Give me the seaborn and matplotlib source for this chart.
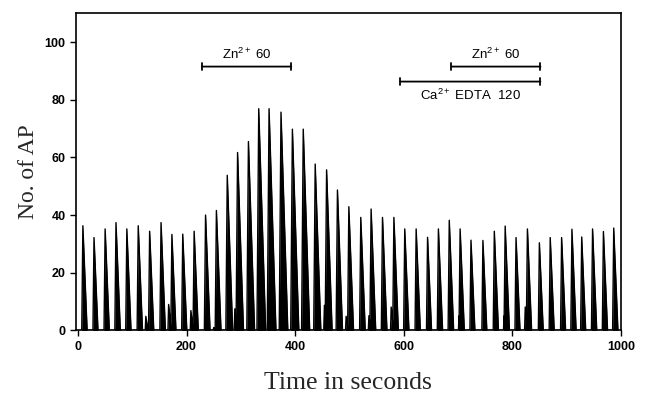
import numpy as np
import pandas as pd
import matplotlib
matplotlib.use("Agg")
import matplotlib.pyplot as plt
import seaborn as sns

# ---- data ----
spike_times = [9, 29.5, 50, 70, 90, 111, 132, 153, 173, 193, 214, 235, 255, 275,
               294, 314, 333, 352, 374, 395, 415, 437, 458, 478, 499, 521, 540,
               561, 582, 602, 623, 644, 664, 684, 704, 724, 746, 767, 787, 807,
               828, 850, 870, 891, 910, 928, 948, 968, 987]
spike_heights = [36.3, 32.2, 35.2, 37.4, 35.2, 36.3, 34.4, 37.4, 33.3, 33.4, 34.4,
                 40.0, 41.6, 53.8, 61.7, 65.5, 76.9, 76.9, 75.7, 69.8, 69.8, 57.7,
                 55.7, 48.7, 42.9, 39.2, 42.1, 39.2, 39.2, 35.2, 35.2, 32.3, 35.2,
                 38.2, 35.2, 31.3, 31.2, 34.4, 36.2, 32.2, 35.2, 30.4, 32.2, 32.2,
                 35.1, 32.4, 35.2, 34.3, 35.5]
small_times = [125, 167, 208, 250, 289, 454, 494, 536, 577, 702, 785, 824]
small_heights = [4.9, 9.0, 6.9, 1.0, 7.5, 8.7, 4.9, 5.1, 8.1, 5.0, 5.0, 8.1]

bar_labels = ["Zn$^{2+}$ 60", "Zn$^{2+}$ 60", "Ca$^{2+}$ EDTA  120"]
bar_start = [228, 688, 594]
bar_end = [393, 852, 852]
bar_level = [91.5, 91.5, 86.3]
label_level = [93.0, 93.0, 84.0]
label_va = ["bottom", "bottom", "top"]

x_ticks = [0, 200, 400, 600, 800, 1000]
y_ticks = [0, 20, 40, 60, 80, 100]

# ---- build spike trace (each spike a sharp rise and decay) ----
events = sorted(list(zip(spike_times, spike_heights)) + list(zip(small_times, small_heights)))
tt, yy = [], []
for t, h in events:
    left = 0.03 * h + 1.0
    right = 0.12 * h + 3.5
    tt += [t - left, t, t + right]
    yy += [0, h, 0]
trace = pd.DataFrame({"Time": tt, "AP": yy})

sns.set_theme(style="ticks")
plt.rcParams["font.family"] = ["Liberation Sans", "DejaVu Sans"]
plt.rcParams["mathtext.fontset"] = "custom"
plt.rcParams["mathtext.rm"] = "Liberation Sans"
plt.rcParams["mathtext.it"] = "Liberation Sans"
plt.rcParams["mathtext.bf"] = "Liberation Sans:bold"

fig = plt.figure(figsize=(6.48, 4.01), dpi=100)
ax = fig.add_axes([0.117, 0.176, 0.841, 0.791])

sns.lineplot(data=trace, x="Time", y="AP", estimator=None, sort=False,
             color="black", linewidth=1.0, ax=ax)
ax.fill_between(trace["Time"], 0, trace["AP"], color="black", linewidth=0)

for lab, s, e, lv, ll, va in zip(bar_labels, bar_start, bar_end, bar_level, label_level, label_va):
    ax.annotate("", xy=(s, lv), xytext=(e, lv),
                arrowprops=dict(arrowstyle="|-|", color="black", lw=1.3,
                                mutation_scale=2.5, shrinkA=0, shrinkB=0))
    ax.text((s + e) / 2, ll, lab, ha="center", va=va, fontsize=9.5, color="black")

ax.set_xlim(-4, 1000)
ax.set_ylim(0, 110)
ax.set_xticks(x_ticks)
ax.set_yticks(y_ticks)
ax.set_xticklabels([str(v) for v in x_ticks], fontsize=9, fontweight="bold")
ax.set_yticklabels([str(v) for v in y_ticks], fontsize=9, fontweight="bold")
ax.tick_params(direction="out", length=4, width=1, colors="black")
for sp in ax.spines.values():
    sp.set_visible(True)
    sp.set_linewidth(1.2)
    sp.set_color("black")

ax.set_xlabel("Time in seconds", fontsize=18.5, family=["Liberation Serif"], labelpad=14)
ax.set_ylabel("No. of AP", fontsize=17, family=["Liberation Serif"], labelpad=4)

fig.savefig("out.png", dpi=100)
